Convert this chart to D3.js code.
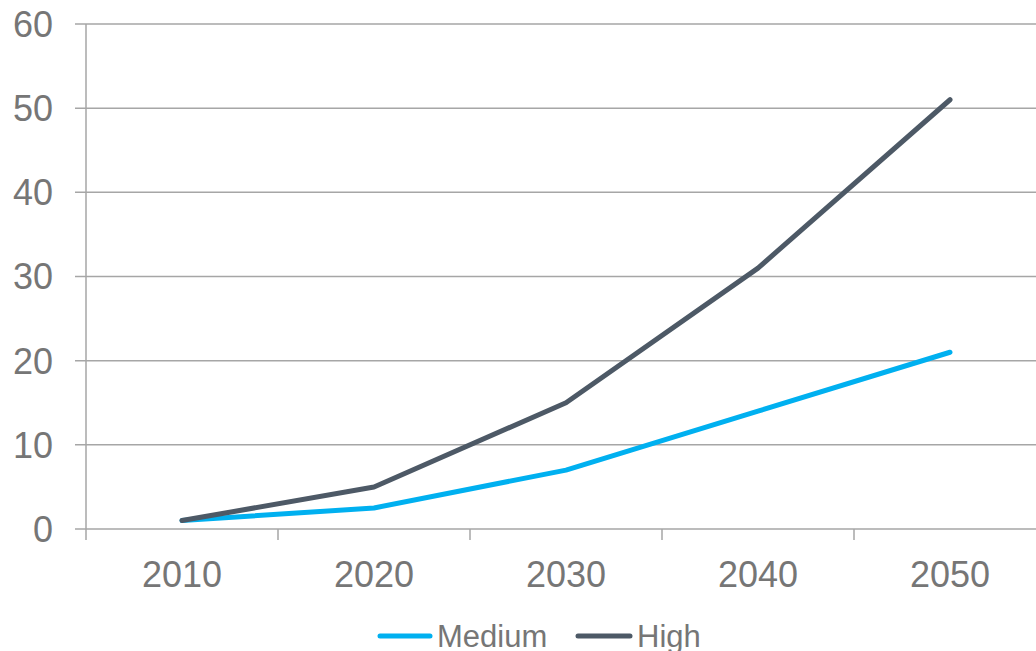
<!DOCTYPE html>
<html><head><meta charset="utf-8">
<script src="https://cdn.jsdelivr.net/npm/d3@7"></script>
<style>body{margin:0;background:#fff}svg{display:block}</style>
</head><body>
<svg id="c" width="1036" height="651"></svg>
<script>
const years = ["2010","2020","2030","2040","2050"];
const medium = [1, 2.5, 7, 14, 21];
const high = [1, 5, 15, 31, 51];
const yTicks = [0,10,20,30,40,50,60];
const seriesNames = ["Medium","High"];
const seriesColors = ["#00B0F0","#4D5966"];

const svg = d3.select("#c");
const x = d3.scaleBand().domain(years).range([86, 1046]);
const y = d3.scaleLinear().domain([0,60]).range([529, 24]);
const font = "Liberation Sans, Arial, sans-serif";
const grid = "#A6A6A6", txt = "#767676";

// gridlines
svg.append("g").selectAll("line").data(yTicks).join("line")
  .attr("x1", 75).attr("x2", 1036)
  .attr("y1", d => y(d)).attr("y2", d => y(d))
  .attr("stroke", grid).attr("stroke-width", 1.5);
// y axis line
svg.append("line").attr("x1", 86).attr("x2", 86).attr("y1", y(60)).attr("y2", 540)
  .attr("stroke", grid).attr("stroke-width", 1.5);
// y labels
svg.append("g").selectAll("text").data(yTicks).join("text")
  .attr("x", 53).attr("y", d => y(d)).attr("dy", "0.36em")
  .attr("text-anchor", "end").attr("font-family", font).attr("font-size", 36)
  .attr("fill", txt).text(d => d);
// x ticks between categories
svg.append("g").selectAll("line").data(years.slice(1)).join("line")
  .attr("x1", d => x(d)).attr("x2", d => x(d)).attr("y1", 529).attr("y2", 540)
  .attr("stroke", grid).attr("stroke-width", 1.5);
// x labels
svg.append("g").selectAll("text").data(years).join("text")
  .attr("x", d => x(d) + x.bandwidth()/2).attr("y", 587)
  .attr("text-anchor", "middle").attr("font-family", font).attr("font-size", 36)
  .attr("fill", txt).text(d => d);

const line = d3.line().x((d,i) => x(years[i]) + x.bandwidth()/2).y(d => y(d));
[medium, high].forEach((s, k) => {
  svg.append("path").datum(s).attr("d", line).attr("fill", "none")
    .attr("stroke", seriesColors[k]).attr("stroke-width", 5)
    .attr("stroke-linejoin", "round").attr("stroke-linecap", "round");
});

// legend
const legX = [380, 578];
const legLen = [50, 52];
seriesNames.forEach((n, k) => {
  svg.append("line").attr("x1", legX[k]).attr("x2", legX[k] + legLen[k])
    .attr("y1", 636).attr("y2", 636).attr("stroke", seriesColors[k])
    .attr("stroke-width", 5).attr("stroke-linecap", "round");
  svg.append("text").attr("x", legX[k] + legLen[k] + 7).attr("y", 647)
    .attr("font-family", font).attr("font-size", 31).attr("fill", txt).text(n);
});
</script>
</body></html>
